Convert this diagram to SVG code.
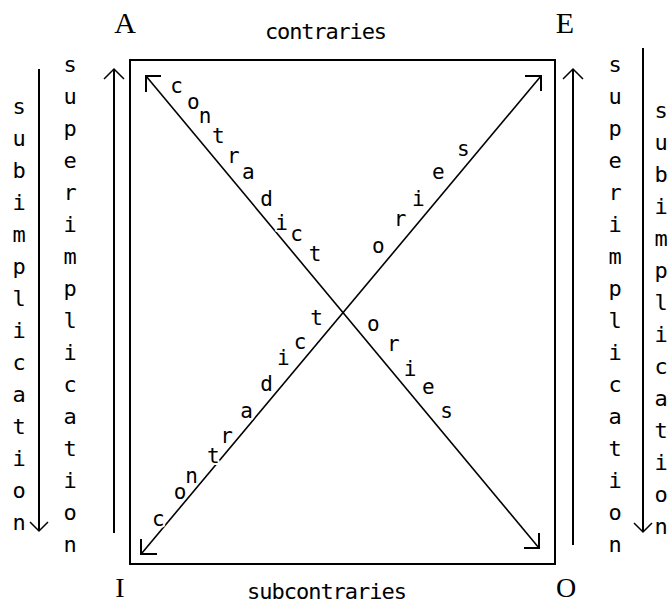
<svg xmlns="http://www.w3.org/2000/svg" width="670" height="605" viewBox="0 0 670 605">
<style>
.lbl{font-family:"Liberation Serif","Times New Roman",serif;font-size:30px;fill:#000;text-anchor:middle}
.lblb{font-family:"Liberation Serif","Times New Roman",serif;font-size:28px;fill:#000;text-anchor:middle}
.mono{font-family:"DejaVu Sans Mono","Liberation Mono",monospace;font-size:22px;fill:#000;text-anchor:middle}
.diag{font-family:"DejaVu Sans Mono","Liberation Mono",monospace;font-size:21px;fill:#000;text-anchor:middle;stroke:#fff;stroke-width:4px;paint-order:stroke;stroke-linejoin:round}
.ln{stroke:#000;stroke-width:2;fill:none}
.dg{stroke:#000;stroke-width:1.6;fill:none}
.hd{stroke:#000;stroke-width:2;fill:none;stroke-linecap:square}
.chev{stroke:#000;stroke-width:1.5;fill:none}
</style>
<rect width="670" height="605" fill="#fff"/>
<g id="square">
  <rect x="130" y="60" width="425" height="504" class="ln"/>
</g>
<g id="node-A"><text class="lbl" x="125" y="33">A</text></g>
<g id="node-E"><text class="lbl" x="565" y="33">E</text></g>
<g id="node-I"><text class="lblb" x="120" y="597">I</text></g>
<g id="node-O"><text class="lblb" x="566" y="597">O</text></g>
<g id="connectors">
  <line class="dg" x1="146" y1="76" x2="539" y2="548"/>
  <line class="dg" x1="142" y1="553" x2="541" y2="76"/>
  <polyline class="hd" points="146,91 146,76 160,76"/>
  <polyline class="hd" points="526,76 541,76 541,90"/>
  <polyline class="hd" points="141,540 141,554 156,554"/>
  <polyline class="hd" points="525,548 539,548 539,534"/>
  <line class="ln" x1="39" y1="69" x2="39" y2="530"/>
  <polyline class="chev" points="30,522 39,531 48,522"/>
  <line class="ln" x1="114" y1="70" x2="114" y2="533"/>
  <polyline class="chev" points="104,79 114,69 124,79"/>
  <line class="ln" x1="573" y1="70" x2="573" y2="545"/>
  <polyline class="chev" points="563,79 573,69 583,79"/>
  <line class="ln" x1="643" y1="48" x2="643" y2="531"/>
  <polyline class="chev" points="634,523 643,532 652,523"/>
</g>
<g id="label-contraries"><text class="mono" x="326" y="39" textLength="122" lengthAdjust="spacing">contraries</text></g>
<g id="label-subcontraries"><text class="mono" x="327" y="599" textLength="160" lengthAdjust="spacing">subcontraries</text></g>
<g id="label-contradictories-AO">
  <text class="diag" x="176.7" y="92.7">c</text>
  <text class="diag" x="193.3" y="109.3">o</text>
  <text class="diag" x="205" y="122.7">n</text>
  <text class="diag" x="218.3" y="143">t</text>
  <text class="diag" x="233.3" y="162.7">r</text>
  <text class="diag" x="248.3" y="179.3">a</text>
  <text class="diag" x="266.7" y="206.3">d</text>
  <text class="diag" x="281.7" y="229.7">i</text>
  <text class="diag" x="296.7" y="241">c</text>
  <text class="diag" x="315" y="261.3">t</text>
  <text class="diag" x="373.3" y="331">o</text>
  <text class="diag" x="393.3" y="351">r</text>
  <text class="diag" x="410" y="376.3">i</text>
  <text class="diag" x="428.3" y="394.3">e</text>
  <text class="diag" x="446.7" y="417.7">s</text>
</g>
<g id="label-contradictories-IE">
  <text class="diag" x="158.3" y="526">c</text>
  <text class="diag" x="180" y="499.3">o</text>
  <text class="diag" x="191.7" y="482.7">n</text>
  <text class="diag" x="213.3" y="463">t</text>
  <text class="diag" x="226.7" y="442.7">r</text>
  <text class="diag" x="246.7" y="417.7">a</text>
  <text class="diag" x="266.7" y="391.3">d</text>
  <text class="diag" x="283.3" y="364.7">i</text>
  <text class="diag" x="300" y="349.3">c</text>
  <text class="diag" x="316.7" y="324.7">t</text>
  <text class="diag" x="378.3" y="252.7">o</text>
  <text class="diag" x="400" y="226">r</text>
  <text class="diag" x="418.3" y="206.3">i</text>
  <text class="diag" x="438.3" y="179.3">e</text>
  <text class="diag" x="463.3" y="156">s</text>
</g>
<g id="label-subimplication-left">
  <text class="mono"><tspan x="19" y="114">s</tspan><tspan x="19" dy="32">u</tspan><tspan x="19" dy="32">b</tspan><tspan x="19" dy="32">i</tspan><tspan x="19" dy="32">m</tspan><tspan x="19" dy="32">p</tspan><tspan x="19" dy="32">l</tspan><tspan x="19" dy="32">i</tspan><tspan x="19" dy="32">c</tspan><tspan x="19" dy="32">a</tspan><tspan x="19" dy="32">t</tspan><tspan x="19" dy="32">i</tspan><tspan x="19" dy="32">o</tspan><tspan x="19" dy="32">n</tspan></text>
</g>
<g id="label-superimplication-left">
  <text class="mono"><tspan x="70" y="72">s</tspan><tspan x="70" dy="32">u</tspan><tspan x="70" dy="32">p</tspan><tspan x="70" dy="32">e</tspan><tspan x="70" dy="32">r</tspan><tspan x="70" dy="32">i</tspan><tspan x="70" dy="32">m</tspan><tspan x="70" dy="32">p</tspan><tspan x="70" dy="32">l</tspan><tspan x="70" dy="32">i</tspan><tspan x="70" dy="32">c</tspan><tspan x="70" dy="32">a</tspan><tspan x="70" dy="32">t</tspan><tspan x="70" dy="32">i</tspan><tspan x="70" dy="32">o</tspan><tspan x="70" dy="32">n</tspan></text>
</g>
<g id="label-superimplication-right">
  <text class="mono"><tspan x="615" y="72">s</tspan><tspan x="615" dy="32">u</tspan><tspan x="615" dy="32">p</tspan><tspan x="615" dy="32">e</tspan><tspan x="615" dy="32">r</tspan><tspan x="615" dy="32">i</tspan><tspan x="615" dy="32">m</tspan><tspan x="615" dy="32">p</tspan><tspan x="615" dy="32">l</tspan><tspan x="615" dy="32">i</tspan><tspan x="615" dy="32">c</tspan><tspan x="615" dy="32">a</tspan><tspan x="615" dy="32">t</tspan><tspan x="615" dy="32">i</tspan><tspan x="615" dy="32">o</tspan><tspan x="615" dy="32">n</tspan></text>
</g>
<g id="label-subimplication-right">
  <text class="mono"><tspan x="661" y="118">s</tspan><tspan x="661" dy="32">u</tspan><tspan x="661" dy="32">b</tspan><tspan x="661" dy="32">i</tspan><tspan x="661" dy="32">m</tspan><tspan x="661" dy="32">p</tspan><tspan x="661" dy="32">l</tspan><tspan x="661" dy="32">i</tspan><tspan x="661" dy="32">c</tspan><tspan x="661" dy="32">a</tspan><tspan x="661" dy="32">t</tspan><tspan x="661" dy="32">i</tspan><tspan x="661" dy="32">o</tspan><tspan x="661" dy="32">n</tspan></text>
</g>
</svg>
